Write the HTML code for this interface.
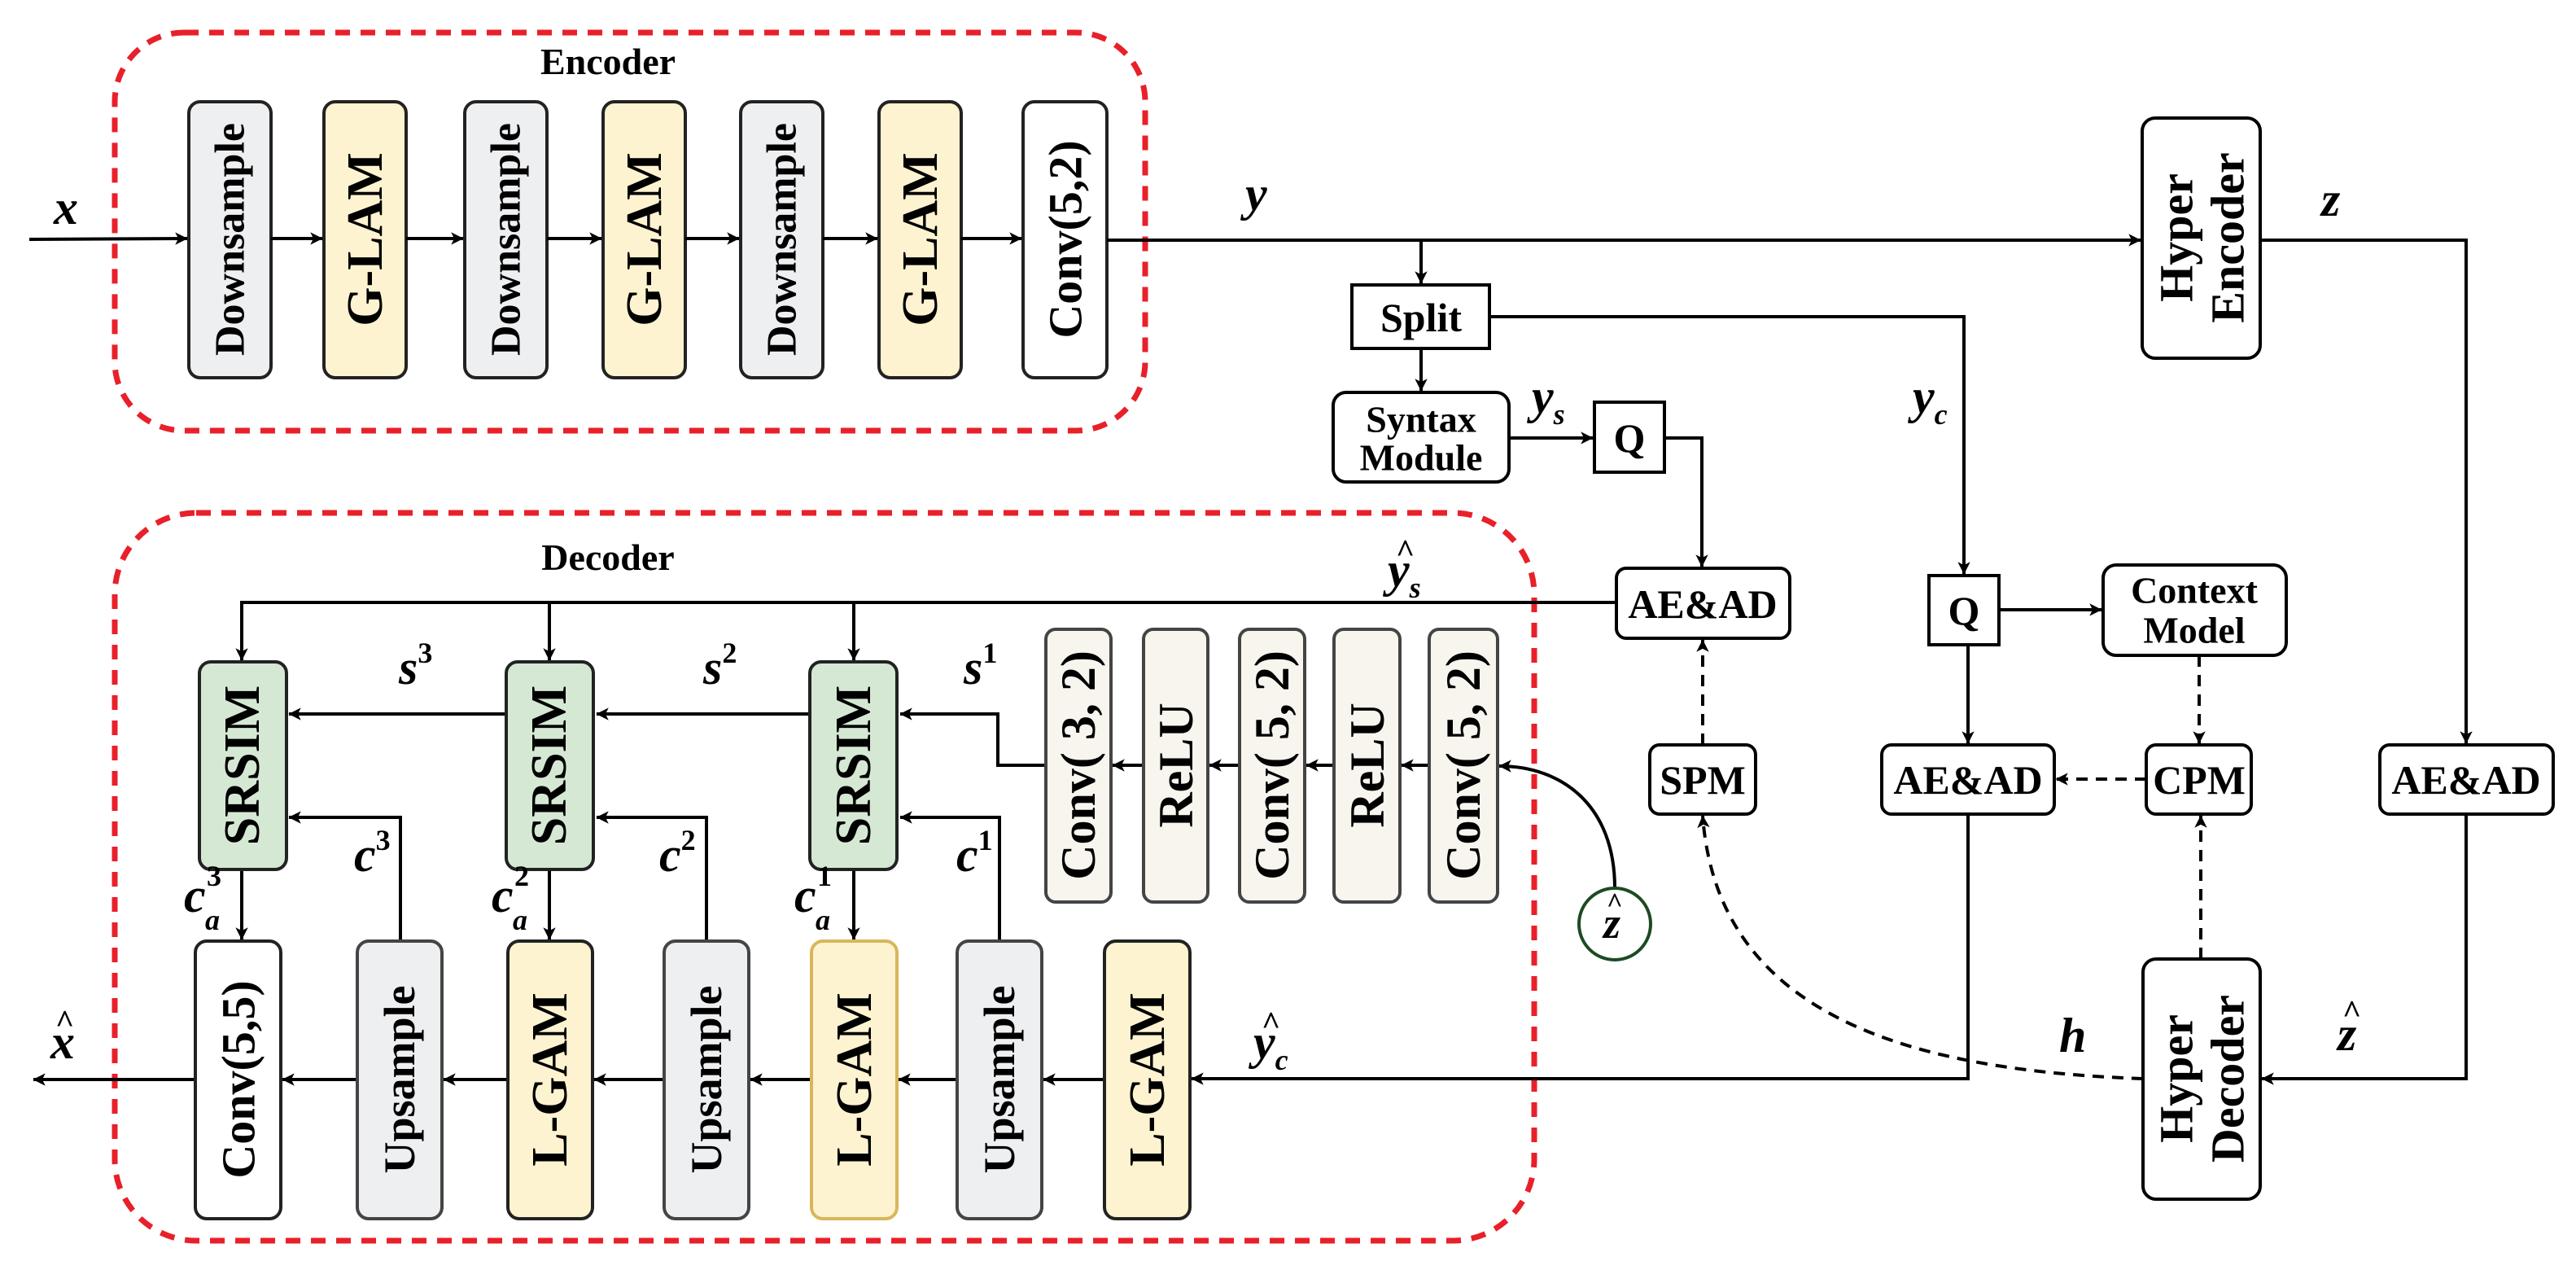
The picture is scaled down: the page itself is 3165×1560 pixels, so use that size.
<!DOCTYPE html>
<html><head><meta charset="utf-8"><style>
html,body{margin:0;padding:0;background:#fff}
svg{display:block}
svg text{font-family:"Liberation Serif","DejaVu Serif",serif;font-weight:bold;fill:#000}
.it{font-style:italic}
</style></head><body>
<svg width="3165" height="1560" viewBox="0 0 3165 1560" xmlns="http://www.w3.org/2000/svg" font-family="Liberation Serif, serif">
<defs>
<marker id="a" viewBox="0 0 12 12" refX="11" refY="6" markerWidth="7" markerHeight="7" markerUnits="userSpaceOnUse" orient="auto" style="overflow:visible">
<path d="M0,0 L12,6 L0,12 L3,6 z" fill="#000" transform="scale(2.2) translate(-6.5,-3.3)"/>
</marker>
</defs>
<g fill="none" stroke="#e8202a" stroke-width="7" stroke-dasharray="18 13">
<rect x="141" y="40" width="1266" height="489" rx="85"/>
<rect x="141" y="630" width="1744" height="894" rx="100"/>
</g>
<text x="747" y="91" font-size="46" text-anchor="middle">Encoder</text>
<text x="747" y="700" font-size="46" text-anchor="middle">Decoder</text>

<g stroke="#222" stroke-width="4">
<rect x="232" y="125" width="101" height="339" rx="14" fill="#eeeff1"/>
<rect x="398" y="125" width="101" height="339" rx="14" fill="#fdf3d0"/>
<rect x="571" y="125" width="101" height="339" rx="14" fill="#eeeff1"/>
<rect x="741" y="125" width="101" height="339" rx="14" fill="#fdf3d0"/>
<rect x="910" y="125" width="101" height="339" rx="14" fill="#eeeff1"/>
<rect x="1080" y="125" width="101" height="339" rx="14" fill="#fdf3d0"/>
<rect x="1257" y="125" width="103" height="339" rx="14" fill="#fff"/>
</g>
<g font-size="52" text-anchor="middle" dominant-baseline="central">
<text transform="translate(283,294) rotate(-90)">Downsample</text>
<text transform="translate(449,294) rotate(-90)" font-size="62">G-LAM</text>
<text transform="translate(622,294) rotate(-90)">Downsample</text>
<text transform="translate(792,294) rotate(-90)" font-size="62">G-LAM</text>
<text transform="translate(961,294) rotate(-90)">Downsample</text>
<text transform="translate(1131,294) rotate(-90)" font-size="62">G-LAM</text>
<text transform="translate(1309,294) rotate(-90)" font-size="58">Conv(5,2)</text>
</g>
<g stroke="#000" stroke-width="4" fill="none" marker-end="url(#a)">
<line x1="36" y1="294" x2="230" y2="293"/>
<line x1="333" y1="293" x2="396" y2="293"/>
<line x1="499" y1="293" x2="569" y2="293"/>
<line x1="672" y1="293" x2="739" y2="293"/>
<line x1="842" y1="293" x2="908" y2="293"/>
<line x1="1011" y1="293" x2="1078" y2="293"/>
<line x1="1181" y1="293" x2="1255" y2="293"/>
<line x1="1360" y1="295" x2="2630" y2="295"/>
<line x1="1746" y1="295" x2="1746" y2="348"/>
<line x1="1746" y1="428" x2="1746" y2="480"/>
<line x1="1854" y1="538" x2="1957" y2="538"/>
<polyline points="2045,538 2091,538 2091,696"/>
<polyline points="1830,389 2413,389 2413,705"/>
<line x1="2456" y1="749" x2="2582" y2="749"/>
<line x1="2418" y1="792" x2="2418" y2="913"/>
<polyline points="2777,295 3030,295 3030,913"/>
<polyline points="3030,1000 3030,1325 2779,1325"/>
<polyline points="2418,1000 2418,1325 1464,1325"/>
<polyline points="1986,740 297,740 297,811"/>
<line x1="675" y1="740" x2="675" y2="811"/>
<line x1="1049" y1="740" x2="1049" y2="811"/>
<polyline points="1285,940 1226,940 1226,877 1106,877"/>
<line x1="995" y1="877" x2="733" y2="877"/>
<line x1="622" y1="877" x2="355" y2="877"/>
<polyline points="1228,1156 1228,1004 1106,1004"/>
<polyline points="868,1156 868,1004 733,1004"/>
<polyline points="492,1156 492,1004 355,1004"/>
<line x1="297" y1="1068" x2="297" y2="1154"/>
<line x1="675" y1="1068" x2="675" y2="1154"/>
<line x1="1049" y1="1068" x2="1049" y2="1154"/>
<line x1="1357" y1="1326" x2="1282" y2="1326"/>
<line x1="1176" y1="1326" x2="1104" y2="1326"/>
<line x1="997" y1="1326" x2="922" y2="1326"/>
<line x1="816" y1="1326" x2="730" y2="1326"/>
<line x1="624" y1="1326" x2="545" y2="1326"/>
<line x1="439" y1="1326" x2="347" y2="1326"/>
<line x1="240" y1="1326" x2="41" y2="1326"/>
<line x1="1405" y1="940" x2="1367" y2="940"/>
<line x1="1523" y1="940" x2="1486" y2="940"/>
<line x1="1639" y1="940" x2="1605" y2="940"/>
<line x1="1756" y1="940" x2="1722" y2="940"/>
<path d="M1984,1091 C1984,990 1920,941 1842,941"/>
</g>
<g stroke="#000" stroke-width="4" fill="none" stroke-dasharray="14 10" marker-end="url(#a)">
<line x1="2092" y1="915" x2="2092" y2="786"/>
<line x1="2702" y1="805" x2="2702" y2="913"/>
<line x1="2637" y1="957" x2="2526" y2="957"/>
<line x1="2704" y1="1178" x2="2704" y2="1002"/>
<path d="M2633,1325 C2350,1315 2110,1250 2092,1002"/>
</g>

<g stroke="#000" stroke-width="4">
<rect x="2632" y="145" width="145" height="295" rx="16" fill="#fff"/>
<rect x="2633" y="1178" width="144" height="295" rx="16" fill="#fff"/>
<rect x="1661" y="350" width="169" height="78" fill="#fff"/>
<rect x="1638" y="482" width="216" height="110" rx="16" fill="#fff"/>
<rect x="1959" y="494" width="86" height="86" fill="#fff"/>
<rect x="1986" y="698" width="213" height="86" rx="12" fill="#fff"/>
<rect x="2027" y="915" width="130" height="85" rx="12" fill="#fff"/>
<rect x="2370" y="707" width="86" height="85" fill="#fff"/>
<rect x="2584" y="694" width="225" height="111" rx="16" fill="#fff"/>
<rect x="2637" y="915" width="129" height="85" rx="12" fill="#fff"/>
<rect x="2312" y="915" width="212" height="85" rx="12" fill="#fff"/>
<rect x="2924" y="915" width="213" height="85" rx="12" fill="#fff"/>
<circle cx="1984" cy="1135" r="44" fill="#fff" stroke="#1d4a22"/>
</g>
<g font-size="50" text-anchor="middle" dominant-baseline="central">
<text transform="translate(2674,292) rotate(-90)" font-size="58">Hyper</text>
<text transform="translate(2737,292) rotate(-90)" font-size="58">Encoder</text>
<text transform="translate(2674,1325) rotate(-90)" font-size="58">Hyper</text>
<text transform="translate(2737,1325) rotate(-90)" font-size="58">Decoder</text>
<text x="1746" y="390">Split</text>
<text x="1746" y="515" font-size="46">Syntax</text>
<text x="1746" y="562" font-size="46">Module</text>
<text x="2002" y="538">Q</text>
<text x="2413" y="750">Q</text>
<text x="2092" y="742">AE&amp;AD</text>
<text x="2418" y="958">AE&amp;AD</text>
<text x="3030" y="958">AE&amp;AD</text>
<text x="2092" y="958">SPM</text>
<text x="2702" y="958">CPM</text>
<text x="2696" y="725" font-size="46">Context</text>
<text x="2696" y="774" font-size="46">Model</text>
</g>

<g stroke="#222" stroke-width="4">
<rect x="245" y="813" width="107" height="255" rx="14" fill="#d5e8d4"/>
<rect x="622" y="813" width="107" height="255" rx="14" fill="#d5e8d4"/>
<rect x="995" y="813" width="107" height="255" rx="14" fill="#d5e8d4"/>
<rect x="1285" y="773" width="80" height="335" rx="12" fill="#f7f5ee" stroke="#444"/>
<rect x="1405" y="773" width="79" height="335" rx="12" fill="#f7f5ee" stroke="#444"/>
<rect x="1523" y="773" width="80" height="335" rx="12" fill="#f7f5ee" stroke="#444"/>
<rect x="1639" y="773" width="81" height="335" rx="12" fill="#f7f5ee" stroke="#444"/>
<rect x="1756" y="773" width="84" height="335" rx="12" fill="#f7f5ee" stroke="#444"/>
<rect x="240" y="1156" width="105" height="341" rx="14" fill="#fff"/>
<rect x="439" y="1156" width="104" height="341" rx="14" fill="#eeeff1" stroke="#444"/>
<rect x="624" y="1156" width="104" height="341" rx="14" fill="#fdf3d0"/>
<rect x="816" y="1156" width="104" height="341" rx="14" fill="#eeeff1" stroke="#444"/>
<rect x="997" y="1156" width="105" height="341" rx="14" fill="#fdf3d0" stroke="#d8b65a"/>
<rect x="1176" y="1156" width="104" height="341" rx="14" fill="#eeeff1" stroke="#444"/>
<rect x="1357" y="1156" width="105" height="341" rx="14" fill="#fdf3d0"/>
</g>
<g font-size="62" text-anchor="middle" dominant-baseline="central">
<text transform="translate(298,940) rotate(-90)">SRSIM</text>
<text transform="translate(675,940) rotate(-90)">SRSIM</text>
<text transform="translate(1049,940) rotate(-90)">SRSIM</text>
<text transform="translate(1325,940) rotate(-90)" font-size="60">Conv( 3, 2)</text>
<text transform="translate(1445,940) rotate(-90)" font-size="60">ReLU</text>
<text transform="translate(1563,940) rotate(-90)" font-size="60">Conv( 5, 2)</text>
<text transform="translate(1680,940) rotate(-90)" font-size="60">ReLU</text>
<text transform="translate(1798,940) rotate(-90)" font-size="60">Conv( 5, 2)</text>
<text transform="translate(293,1326) rotate(-90)" font-size="58">Conv(5,5)</text>
<text transform="translate(491,1326) rotate(-90)" font-size="54">Upsample</text>
<text transform="translate(676,1326) rotate(-90)">L-GAM</text>
<text transform="translate(868,1326) rotate(-90)" font-size="54">Upsample</text>
<text transform="translate(1050,1326) rotate(-90)">L-GAM</text>
<text transform="translate(1228,1326) rotate(-90)" font-size="54">Upsample</text>
<text transform="translate(1410,1326) rotate(-90)">L-GAM</text>
</g>

<g class="it" font-size="60">
<text x="66" y="275">x</text>
<text x="1530" y="258">y</text>
<text x="2852" y="265">z</text>
<text x="1882" y="507">y<tspan font-size="36" dy="14">s</tspan></text>
<text x="2350" y="507">y<tspan font-size="36" dy="14">c</tspan></text>
<text x="2530" y="1292">h</text>
<text x="2872" y="1290">z</text><text x="2878" y="1256" font-size="40" font-style="normal">^</text>
<text x="1970" y="1152" font-size="54">z</text><text x="1974" y="1120" font-size="34" font-style="normal">^</text>
<text x="62" y="1300">x</text><text x="68" y="1268" font-size="40" font-style="normal">^</text>
<text x="1705" y="720">y<tspan font-size="36" dy="14">s</tspan></text><text x="1715" y="690" font-size="40" font-style="normal">^</text>
<text x="1540" y="1300">y<tspan font-size="36" dy="14">c</tspan></text><text x="1550" y="1270" font-size="40" font-style="normal">^</text>
<text x="490" y="840">s<tspan font-size="36" font-style="normal" dy="-26">3</tspan></text>
<text x="864" y="840">s<tspan font-size="36" font-style="normal" dy="-26">2</tspan></text>
<text x="1184" y="840">s<tspan font-size="36" font-style="normal" dy="-26">1</tspan></text>
<text x="435" y="1070">c<tspan font-size="36" font-style="normal" dy="-26">3</tspan></text>
<text x="810" y="1070">c<tspan font-size="36" font-style="normal" dy="-26">2</tspan></text>
<text x="1175" y="1070">c<tspan font-size="36" font-style="normal" dy="-26">1</tspan></text>
<text x="226" y="1120">c</text><text x="254" y="1088" font-size="36" font-style="normal">3</text><text x="252" y="1142" font-size="36">a</text>
<text x="604" y="1120">c</text><text x="632" y="1088" font-size="36" font-style="normal">2</text><text x="630" y="1142" font-size="36">a</text>
<text x="976" y="1120">c</text><text x="1004" y="1088" font-size="36" font-style="normal">1</text><text x="1002" y="1142" font-size="36">a</text>
</g>
</svg>
</body></html>
